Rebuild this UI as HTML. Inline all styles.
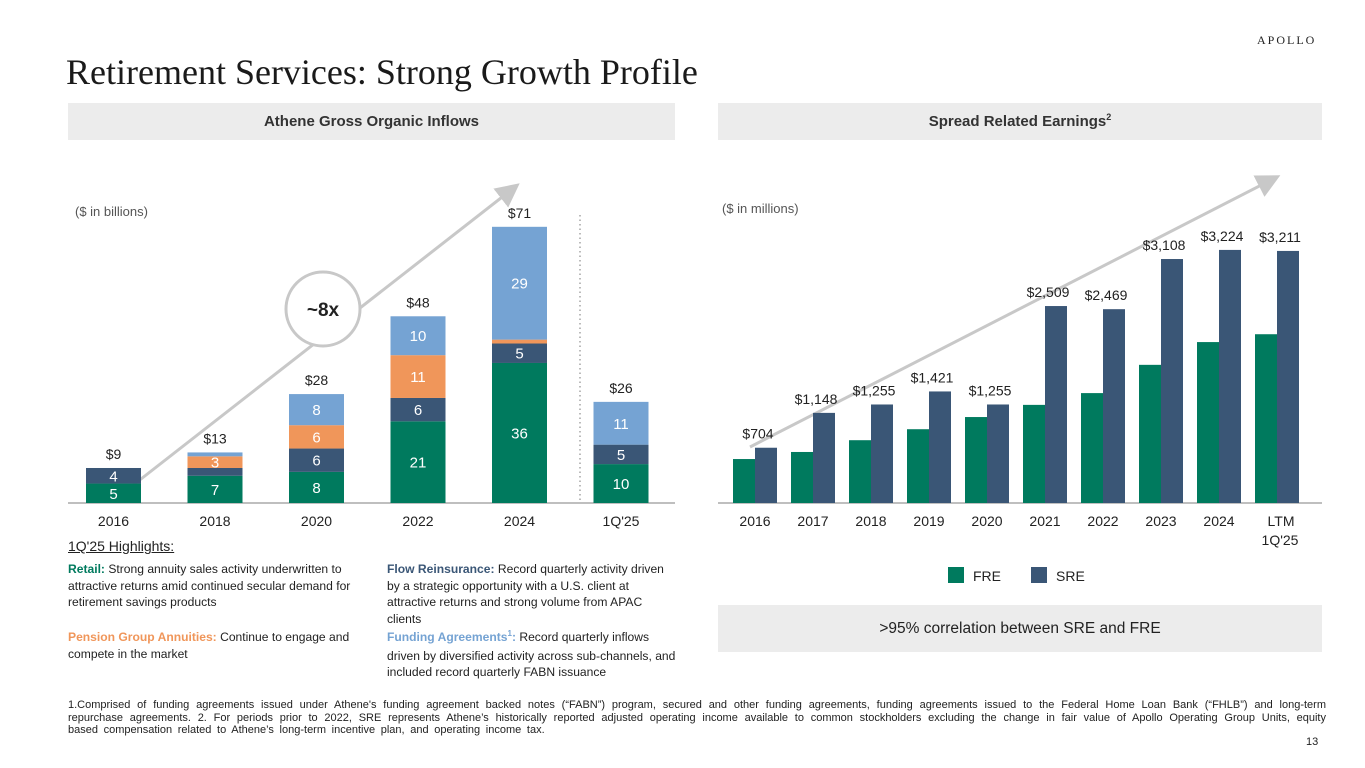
<!DOCTYPE html>
<html><head><meta charset="utf-8">
<style>
body{margin:0;width:1365px;height:768px;position:relative;background:#fff;font-family:"Liberation Sans",Arial,sans-serif;color:#222;overflow:hidden}
.abs{position:absolute}
.hdr{position:absolute;top:103px;height:37px;background:#ececec;font-weight:bold;font-size:15px;color:#333;text-align:center;line-height:37px}
.hl{position:absolute;font-size:12.1px;line-height:16.5px;color:#222}
.hl b{font-weight:bold}
</style></head><body>
<div class="abs" style="left:1257px;top:33px;font-family:'Liberation Serif',serif;font-size:12px;letter-spacing:2px;color:#222">APOLLO</div>
<div class="abs" style="left:66px;top:51px;font-family:'Liberation Serif',serif;font-size:36px;color:#1a1a1a">Retirement Services: Strong Growth Profile</div>
<div class="hdr" style="left:68px;width:607px">Athene Gross Organic Inflows</div>
<div class="hdr" style="left:718px;width:604px">Spread Related Earnings<span style="font-size:9px;position:relative;top:-6px">2</span></div>

<svg class="abs" style="left:0;top:0" width="1365" height="768">
<defs><marker id="ah" markerWidth="8" markerHeight="8" refX="6" refY="4" orient="auto"><path d="M0,0 L8,4 L0,8 z" fill="#c8c8c8"/></marker></defs>
<g id="left"></g><g id="right"></g>
</svg>

<div class="abs" style="left:68px;top:538px;font-size:14px;text-decoration:underline">1Q'25 Highlights:</div>
<div class="hl" style="left:68px;top:561px;width:300px"><b style="color:#007a5e">Retail:</b> Strong annuity sales activity underwritten to attractive returns amid continued secular demand for retirement savings products</div>
<div class="hl" style="left:68px;top:629px;width:300px"><b style="color:#f0965a">Pension Group Annuities:</b> Continue to engage and compete in the market</div>
<div class="hl" style="left:387px;top:561px;width:288px"><b style="color:#3a5676">Flow Reinsurance:</b> Record quarterly activity driven by a strategic opportunity with a U.S. client at attractive returns and strong volume from APAC clients</div>
<div class="hl" style="left:387px;top:629px;width:295px"><b style="color:#75a3d3">Funding Agreements<span style="font-size:8px;position:relative;top:-5px">1</span>:</b> Record quarterly inflows driven by diversified activity across sub-channels, and included record quarterly FABN issuance</div>

<div class="abs" style="left:718px;top:605px;width:604px;height:47px;background:#ececec;text-align:center;line-height:47px;font-size:15.5px;color:#222">&gt;95% correlation between SRE and FRE</div>

<div class="abs" style="left:68px;top:699px;width:1258px;font-size:11px;word-spacing:2.6px;line-height:12.5px;text-align:justify;color:#222">1.Comprised of funding agreements issued under Athene's funding agreement backed notes (“FABN”) program, secured and other funding agreements, funding agreements issued to the Federal Home Loan Bank (“FHLB”) and long-term repurchase agreements. 2. For periods prior to 2022, SRE represents Athene’s historically reported adjusted operating income available to common stockholders excluding the change in fair value of Apollo Operating Group Units, equity based compensation related to Athene’s long-term incentive plan, and operating income tax.</div>
<div class="abs" style="left:1306px;top:736px;font-size:11px">13</div>

<script>
const leftCats=["2016","2018","2020","2022","2024","1Q'25"];
const retail=[5,7,8,21,36,10];
const flow=[4,2,6,6,5,5];
const pension=[0,3,6,11,1,0];
const funding=[0,1,8,10,29,11];
const leftTotals=["$9","$13","$28","$48","$71","$26"];
const rightCats=["2016","2017","2018","2019","2020","2021","2022","2023","2024","LTM"];
const fre=[560,650,800,940,1095,1250,1400,1760,2050,2150];
const sre=[704,1148,1255,1421,1255,2509,2469,3108,3224,3211];
const sreLabels=["$704","$1,148","$1,255","$1,421","$1,255","$2,509","$2,469","$3,108","$3,224","$3,211"];

const NS="http://www.w3.org/2000/svg";
function mk(parent,tag,attrs,text){const e=document.createElementNS(NS,tag);for(const k in attrs)e.setAttribute(k,attrs[k]);if(text!==undefined)e.textContent=text;parent.appendChild(e);return e;}
const base=503;
const L=document.getElementById('left');
const lx=i=>113.5+i*101.5, ly=v=>v*3.89, bw=55;
mk(L,'line',{x1:68,x2:675,y1:base,y2:base,stroke:'#999','stroke-width':1.2});
mk(L,'line',{x1:580,x2:580,y1:215,y2:503,stroke:'#777','stroke-width':1,'stroke-dasharray':'1.5,3'});
mk(L,'line',{x1:132,y1:486,x2:515,y2:187,stroke:'#c8c8c8','stroke-width':3,'marker-end':'url(#ah)'});
const c=mk(L,'circle',{cx:323,cy:309,r:37,fill:'#fff',stroke:'#c8c8c8','stroke-width':3});


const ct=mk(L,'text',{x:323,y:316,'text-anchor':'middle','font-size':19,'font-weight':'bold',fill:'#222'},'~8x');


mk(L,'text',{x:75,y:216,'font-size':13,fill:'#555'},'($ in billions)');
const series=[[retail,'#007a5e','retail'],[flow,'#3a5676','flow'],[pension,'#f0965a','pension'],[funding,'#75a3d3','funding']];
leftCats.forEach((cat,i)=>{
  let y=base;
  series.forEach(([arr,col,nm])=>{
    const h=ly(arr[i]); if(h<=0)return;
    const r=mk(L,'rect',{x:lx(i)-bw/2,y:y-h,width:bw,height:h,fill:col});
    
    
    if(arr[i]>=3) mk(L,'text',{x:lx(i),y:y-h/2+5.5,'text-anchor':'middle','font-size':15,fill:'#fff'},arr[i]);
    y-=h;
  });
  const t=mk(L,'text',{x:lx(i),y:y-9,'text-anchor':'middle','font-size':14,fill:'#222'},leftTotals[i]);
  
  
  const xl=mk(L,'text',{x:lx(i),y:526,'text-anchor':'middle','font-size':14,fill:'#222'},cat);
  
  
});
const R=document.getElementById('right');
const rx=i=>755+i*58, ry=v=>v*0.0785, rw=22;
mk(R,'line',{x1:718,x2:1322,y1:base,y2:base,stroke:'#999','stroke-width':1.2});
mk(R,'line',{x1:750,y1:447,x2:1275,y2:178,stroke:'#c8c8c8','stroke-width':3,'marker-end':'url(#ah)'});
mk(R,'text',{x:722,y:213,'font-size':13,fill:'#555'},'($ in millions)');
rightCats.forEach((cat,i)=>{
  const h1=ry(fre[i]),h2=ry(sre[i]);
  const a=mk(R,'rect',{x:rx(i)-rw,y:base-h1,width:rw,height:h1,fill:'#007a5e'});
  
  
  const b=mk(R,'rect',{x:rx(i),y:base-h2,width:rw,height:h2,fill:'#3a5676'});
  
  
  mk(R,'text',{x:rx(i)+3,y:base-h2-9,'text-anchor':'middle','font-size':14,fill:'#222'},sreLabels[i]);
  const xl=mk(R,'text',{x:rx(i)+(i==9?4:0),y:526,'text-anchor':'middle','font-size':14,fill:'#222'},cat);
  
  
});
mk(R,'text',{x:1280,y:545,'text-anchor':'middle','font-size':14,fill:'#222'},"1Q'25");
const lg1=mk(R,'rect',{x:948,y:567,width:16,height:16,fill:'#007a5e'});


mk(R,'text',{x:973,y:581,'font-size':14,fill:'#222'},'FRE');
const lg2=mk(R,'rect',{x:1031,y:567,width:16,height:16,fill:'#3a5676'});


mk(R,'text',{x:1056,y:581,'font-size':14,fill:'#222'},'SRE');
</script>
</body></html>
